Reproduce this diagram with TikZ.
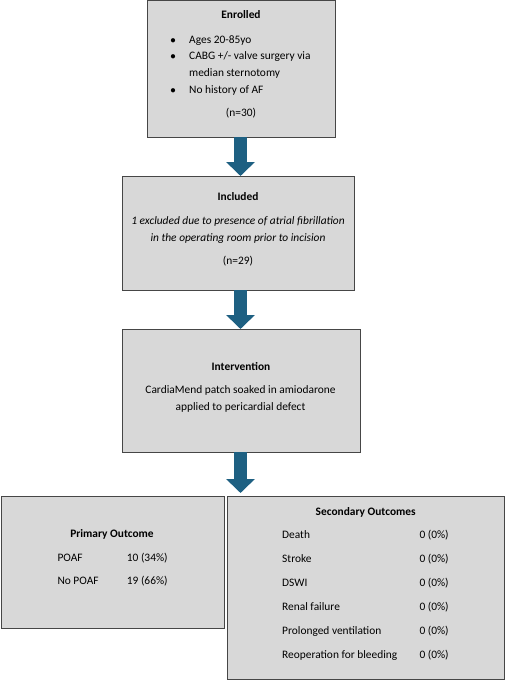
\documentclass[tikz,border=0pt]{standalone}
\usepackage{fontspec}
\setmainfont{Carlito}
\usetikzlibrary{arrows.meta}

\definecolor{boxfill}{RGB}{216,216,216}
\definecolor{boxline}{RGB}{70,70,70}
\definecolor{arrowfill}{RGB}{30,96,130}

\tikzset{
  stage/.style={draw=boxline, fill=boxfill, line width=1.4pt, anchor=north west, inner sep=0pt},
  flowarrow/.style={draw=arrowfill, line width=13pt, -{Triangle[width=28pt, length=14pt]}},
  txt/.style={inner sep=0pt, font=\fontsize{11.4}{13.7}\selectfont},
  ctxt/.style={txt, anchor=base},
  ltxt/.style={txt, anchor=base west},
}

\begin{document}
\begin{tikzpicture}[x=1pt, y=-1pt]
\useasboundingbox (0,0) rectangle (532,680);

% boxes
\node[stage, minimum width=188pt, minimum height=137pt] (enrolled)     at (147,-0.5) {};
\node[stage, minimum width=232pt, minimum height=114pt] (included)     at (122,176) {};
\node[stage, minimum width=238pt, minimum height=123pt] (intervention) at (122,329) {};
\node[stage, minimum width=223pt, minimum height=132pt] (primary)      at (1,496) {};
\node[stage, minimum width=277pt, minimum height=183pt] (secondary)    at (227,496) {};

% arrows
\coordinate (split) at (240.5,493);
\draw[flowarrow] (240.5,137) -- (240.5,176);
\draw[flowarrow] (240.5,290) -- (240.5,329);
\draw[flowarrow] (240.5,452) -- (split);

% enrolled
\node[ctxt] (enrolledtitle) at (241,18.8) {\textbf{Enrolled}};
\node[ctxt] (bulleta) at (173,43.1) {$\bullet$};
\node[ctxt] (bulletb) at (173,59.8) {$\bullet$};
\node[ctxt] (bulletc) at (173,93.1) {$\bullet$};
\node[ltxt] (ages)    at (189,43.1) {Ages 20-85yo};
\node[ltxt] (cabg)    at (189,59.8) {CABG +/- valve surgery via};
\node[ltxt] (cabgb)   at (189,76.1) {median sternotomy};
\node[ltxt] (noaf)    at (189,93.1) {No history of AF};
\node[ctxt] (enrolledn) at (241,116.8) {(n=30)};

% included
\node[ctxt] (includedtitle) at (238,200.5) {\textbf{Included}};
\node[ctxt] (excludeda) at (238,224.5) {\textit{1 excluded due to presence of atrial fibrillation}};
\node[ctxt] (excludedb) at (238,241.1) {\textit{in the operating room prior to incision}};
\node[ctxt] (includedn) at (238,264.8) {(n=29)};

% intervention
\node[ctxt] (interventiontitle) at (241,370.5) {\textbf{Intervention}};
\node[ctxt] (patcha) at (240.5,393.8) {CardiaMend patch soaked in amiodarone};
\node[ctxt] (patchb) at (240.5,410.8) {applied to pericardial defect};

% primary outcome
\node[ctxt] (primarytitle) at (112,537.1) {\textbf{Primary Outcome}};
\node[ltxt] (poaf)    at (57.3,561.5) {POAF};
\node[ltxt] (poafv)   at (126.7,561.5) {10 (34\%)};
\node[ltxt] (nopoaf)  at (57.3,584.5) {No POAF};
\node[ltxt] (nopoafv) at (126.7,584.5) {19 (66\%)};

% secondary outcomes
\node[ctxt] (secondarytitle) at (365.7,515.5) {\textbf{Secondary Outcomes}};
\node[ltxt] (death)   at (282,538.8) {Death};
\node[ltxt] (stroke)  at (282,562.8) {Stroke};
\node[ltxt] (dswi)    at (282,586.8) {DSWI};
\node[ltxt] (renal)   at (282,610.8) {Renal failure};
\node[ltxt] (vent)    at (282,634.8) {Prolonged ventilation};
\node[ltxt] (reop)    at (282,658.8) {Reoperation for bleeding};
\node[ltxt] (deathv)  at (419.3,538.8) {0 (0\%)};
\node[ltxt] (strokev) at (419.3,562.8) {0 (0\%)};
\node[ltxt] (dswiv)   at (419.3,586.8) {0 (0\%)};
\node[ltxt] (renalv)  at (419.3,610.8) {0 (0\%)};
\node[ltxt] (ventv)   at (419.3,634.8) {0 (0\%)};
\node[ltxt] (reopv)   at (419.3,658.8) {0 (0\%)};

\end{tikzpicture}
\end{document}
